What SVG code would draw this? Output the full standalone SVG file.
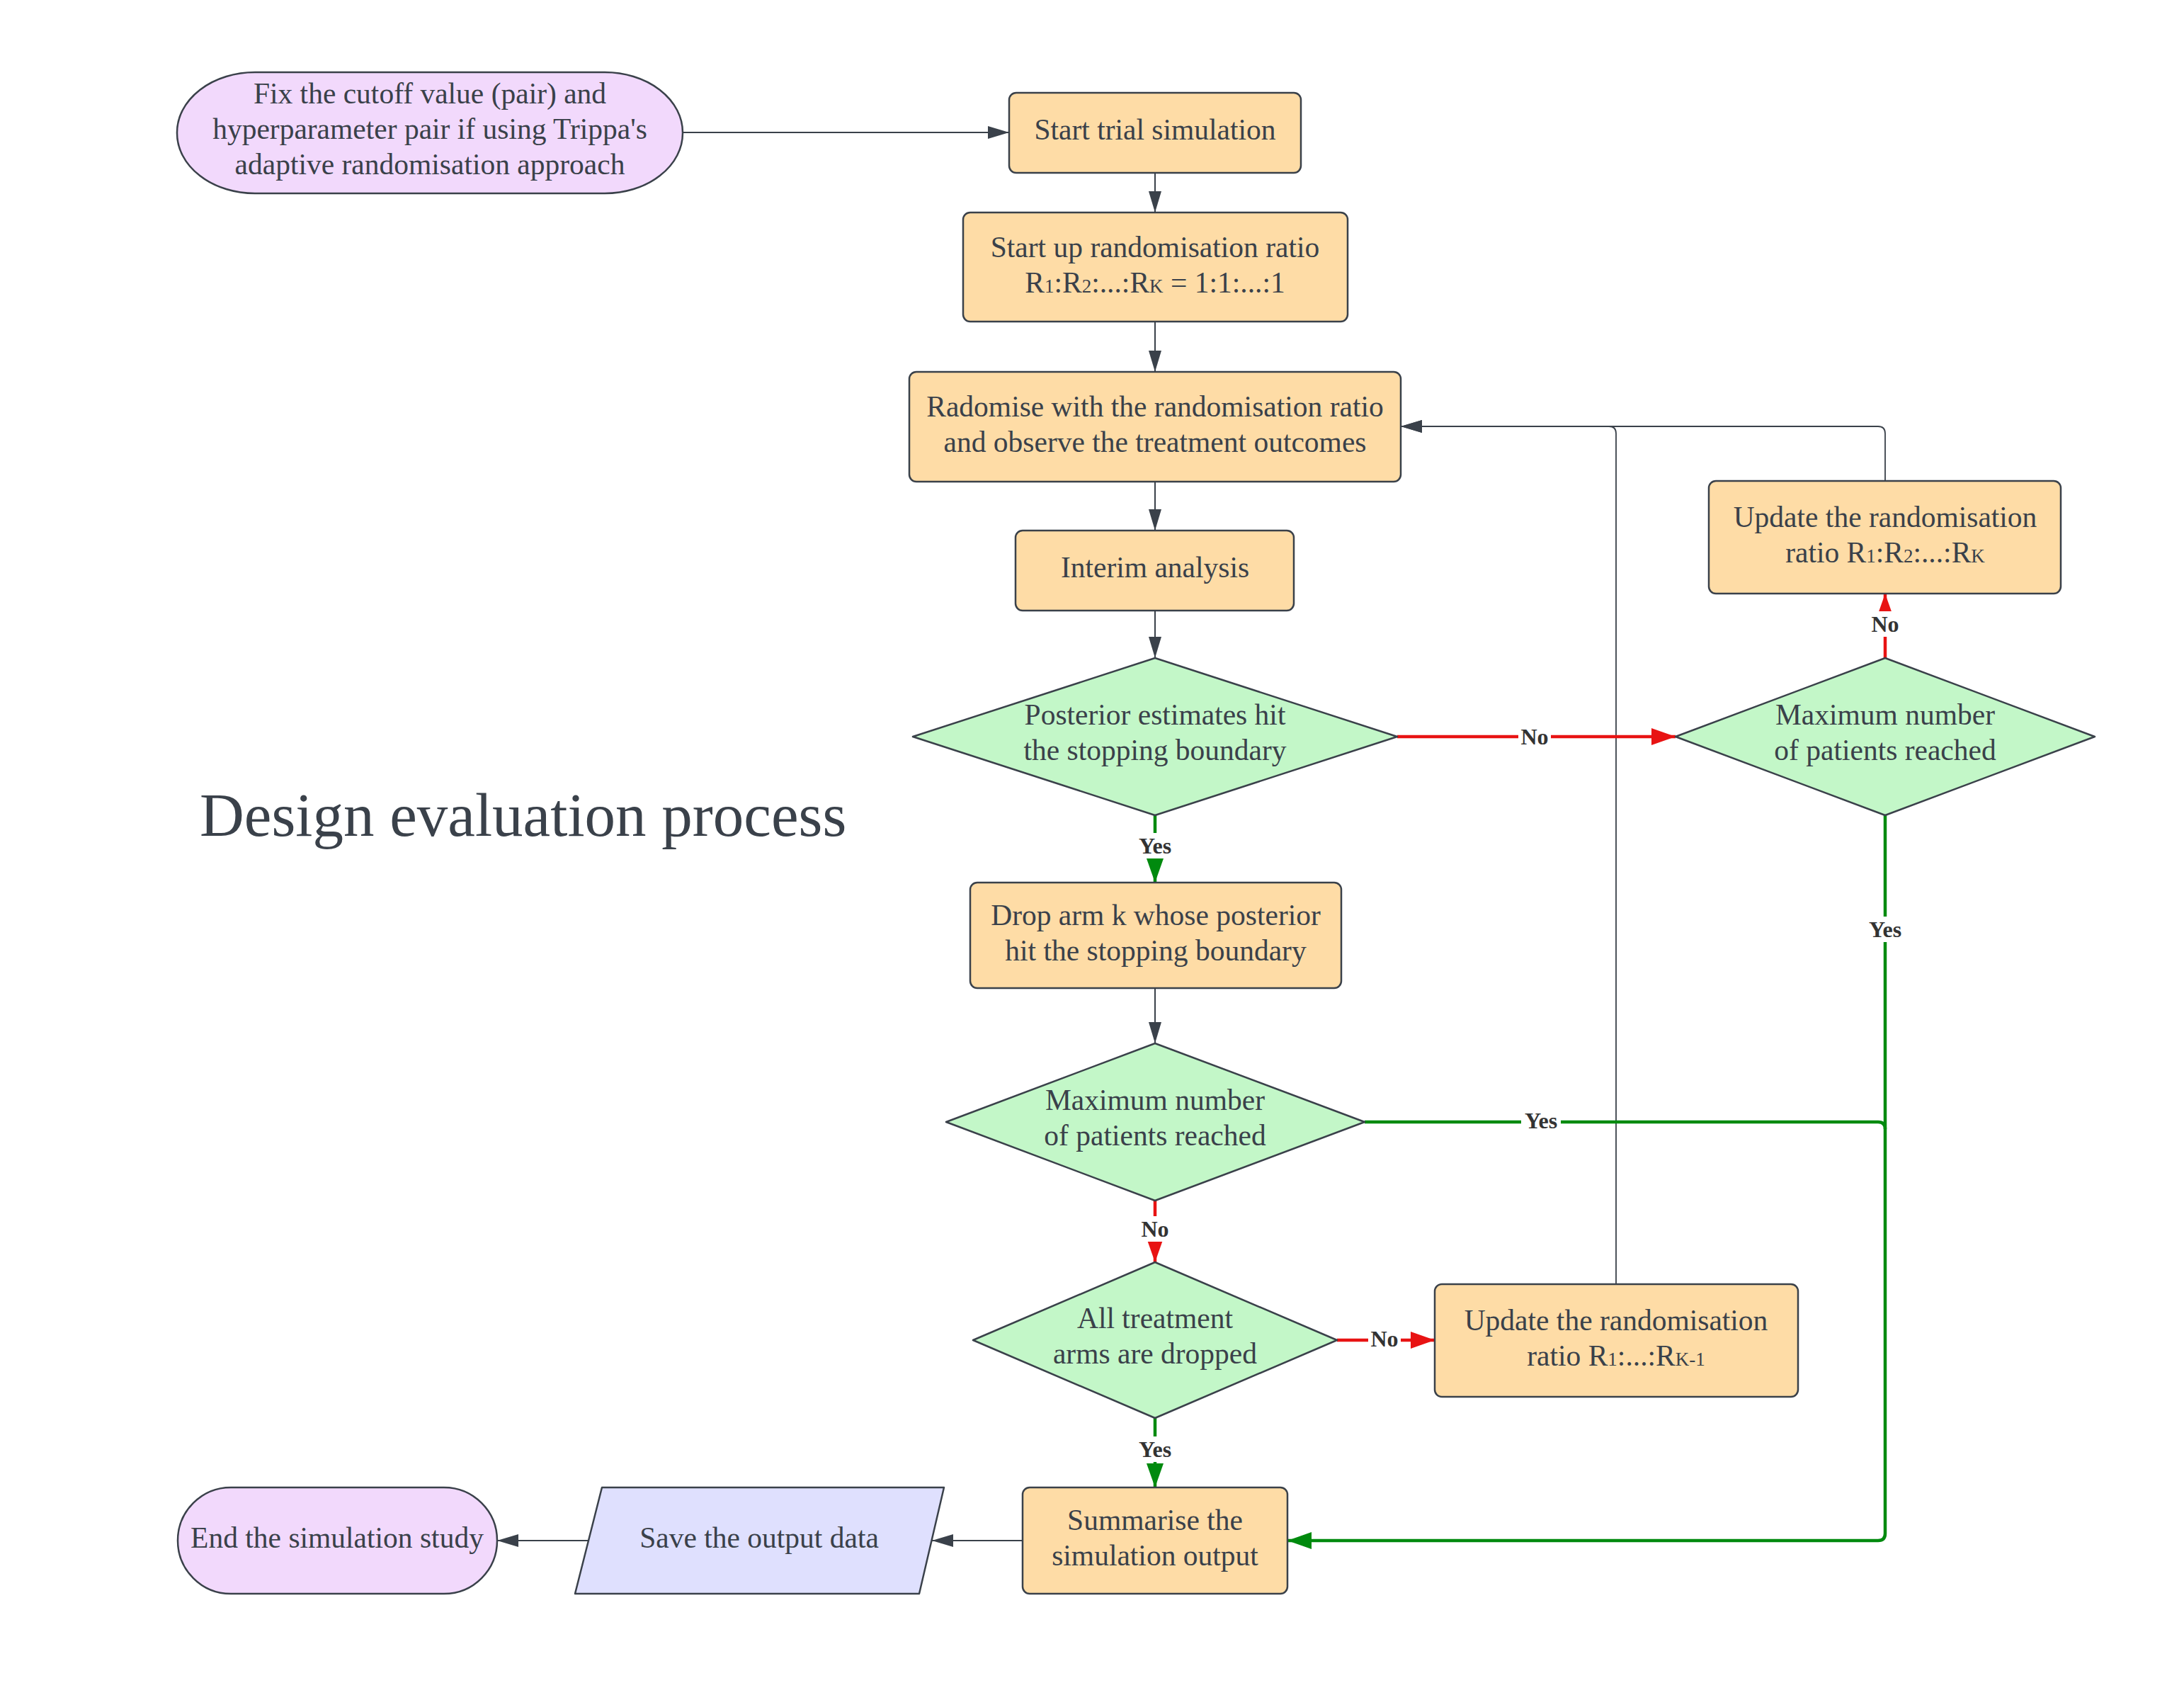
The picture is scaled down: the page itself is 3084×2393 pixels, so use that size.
<svg xmlns="http://www.w3.org/2000/svg" width="3084" height="2393" viewBox="0 0 3084 2393">
<defs>
<style>
.box{fill:#fedca6;stroke:#3a414a;stroke-width:2.5}
.dia{fill:#c3f7c8;stroke:#3a414a;stroke-width:2.5;stroke-linejoin:round}
.term{fill:#f2d9fc;stroke:#3a414a;stroke-width:2.5}
.io{fill:#dfe0fe;stroke:#3a414a;stroke-width:2.5;stroke-linejoin:round}
.t{font-family:"Liberation Serif","Times New Roman",serif;font-size:41.5px;fill:#3a414a;text-anchor:middle}
.sub{font-size:27px}
.title{font-family:"Liberation Serif","Times New Roman",serif;font-size:87px;fill:#3a414a}
.c{fill:none;stroke:#3a414a;stroke-width:2}
.cg{fill:none;stroke:#3a414a;stroke-width:1.8}
.r{fill:none;stroke:#e81313;stroke-width:4.5}
.g{fill:none;stroke:#008a0e;stroke-width:4.5}
.lbl{font-family:"Liberation Serif","Times New Roman",serif;font-size:32px;font-weight:bold;fill:#333333;text-anchor:middle}
.lb{fill:#ffffff}
</style>
<marker id="ad" markerUnits="userSpaceOnUse" markerWidth="30" markerHeight="18" refX="30" refY="9" orient="auto"><path d="M0,0 L30,9 L0,18 z" fill="#3a414a"/></marker>
<marker id="ar" markerUnits="userSpaceOnUse" markerWidth="34" markerHeight="24" refX="34" refY="12" orient="auto"><path d="M0,0 L34,12 L0,24 z" fill="#e81313"/></marker>
<marker id="ag" markerUnits="userSpaceOnUse" markerWidth="34" markerHeight="24" refX="34" refY="12" orient="auto"><path d="M0,0 L34,12 L0,24 z" fill="#008a0e"/></marker>
</defs>
<rect width="3084" height="2393" fill="#ffffff"/>

<text class="title" x="282" y="1180">Design evaluation process</text>

<g id="connectors">
<path class="c" d="M964 187 H1425" marker-end="url(#ad)"/>
<path class="c" d="M1631 244 V300" marker-end="url(#ad)"/>
<path class="c" d="M1631 454 V525" marker-end="url(#ad)"/>
<path class="c" d="M1631 680 V749" marker-end="url(#ad)"/>
<path class="c" d="M1631 862 V929" marker-end="url(#ad)"/>
<path class="c" d="M1631 1395 V1473" marker-end="url(#ad)"/>
<path class="c" d="M1444 2175 H1316" marker-end="url(#ad)"/>
<path class="c" d="M831 2175 H702" marker-end="url(#ad)"/>
<path class="cg" d="M2662 679 V612 Q2662 602 2652 602 H1978" marker-end="url(#ad)"/>
<path class="cg" d="M2282 1813 V612 Q2282 602 2272 602 H1978" marker-end="url(#ad)"/>
<path class="r" d="M1973 1040 H2366" marker-end="url(#ar)"/>
<path class="r" d="M2662 929 V838" marker-end="url(#ar)"/>
<path class="r" d="M1631 1695 V1782" marker-end="url(#ar)"/>
<path class="r" d="M1888 1892 H2026" marker-end="url(#ar)"/>
<path class="g" d="M1631 1151 V1246" marker-end="url(#ag)"/>
<path class="g" d="M1631 2002 V2100" marker-end="url(#ag)"/>
<path class="g" d="M2662 1151 V2165 Q2662 2175 2652 2175 H1818" marker-end="url(#ag)"/>
<path class="g" d="M1927 1584 H2652 Q2662 1584 2662 1594"/>
<rect class="lb" x="2144" y="1022" width="46" height="36"/><text class="lbl" x="2167" y="1051">No</text>
<rect class="lb" x="2639" y="863" width="46" height="36"/><text class="lbl" x="2662" y="892">No</text>
<rect class="lb" x="2634" y="1294" width="56" height="36"/><text class="lbl" x="2662" y="1323">Yes</text>
<rect class="lb" x="1603" y="1176" width="56" height="36"/><text class="lbl" x="1631" y="1205">Yes</text>
<rect class="lb" x="2148" y="1564" width="56" height="36"/><text class="lbl" x="2176" y="1593">Yes</text>
<rect class="lb" x="1608" y="1717" width="46" height="36"/><text class="lbl" x="1631" y="1746">No</text>
<rect class="lb" x="1932" y="1872" width="46" height="36"/><text class="lbl" x="1955" y="1901">No</text>
<rect class="lb" x="1603" y="2028" width="56" height="36"/><text class="lbl" x="1631" y="2057">Yes</text>
</g>

<g id="n_fix">
<rect class="term" x="250" y="102" width="714" height="171" rx="110" ry="85"/>
<text class="t" x="607" y="146">Fix the cutoff value (pair) and</text>
<text class="t" x="607" y="196">hyperparameter pair if using Trippa's</text>
<text class="t" x="607" y="246">adaptive randomisation approach</text>
</g>

<g id="n_start">
<rect class="box" x="1425" y="131" width="412" height="113" rx="10"/>
<text class="t" x="1631" y="197">Start trial simulation</text>
</g>

<g id="n_ratio">
<rect class="box" x="1360" y="300" width="543" height="154" rx="10"/>
<text class="t" x="1631" y="363">Start up randomisation ratio</text>
<text class="t" x="1631" y="413">R<tspan class="sub">1</tspan>:R<tspan class="sub">2</tspan>:...:R<tspan class="sub">K</tspan> = 1:1:...:1</text>
</g>

<g id="n_rand">
<rect class="box" x="1284" y="525" width="694" height="155" rx="10"/>
<text class="t" x="1631" y="588">Radomise with the randomisation ratio</text>
<text class="t" x="1631" y="638">and observe the treatment outcomes</text>
</g>

<g id="n_interim">
<rect class="box" x="1434" y="749" width="393" height="113" rx="10"/>
<text class="t" x="1631" y="815">Interim analysis</text>
</g>

<g id="d_posterior">
<polygon class="dia" points="1631,929 1973,1040 1631,1151 1289,1040"/>
<text class="t" x="1631" y="1023">Posterior estimates hit</text>
<text class="t" x="1631" y="1073">the stopping boundary</text>
</g>

<g id="d_max1">
<polygon class="dia" points="2662,929 2958,1040 2662,1151 2366,1040"/>
<text class="t" x="2662" y="1023">Maximum number</text>
<text class="t" x="2662" y="1073">of patients reached</text>
</g>

<g id="n_update1">
<rect class="box" x="2413" y="679" width="497" height="159" rx="10"/>
<text class="t" x="2662" y="744">Update the randomisation</text>
<text class="t" x="2662" y="794">ratio R<tspan class="sub">1</tspan>:R<tspan class="sub">2</tspan>:...:R<tspan class="sub">K</tspan></text>
</g>

<g id="n_drop">
<rect class="box" x="1370" y="1246" width="524" height="149" rx="10"/>
<text class="t" x="1632" y="1306">Drop arm k whose posterior</text>
<text class="t" x="1632" y="1356">hit the stopping boundary</text>
</g>

<g id="d_max2">
<polygon class="dia" points="1631,1473 1927,1584 1631,1695 1336,1584"/>
<text class="t" x="1631" y="1567">Maximum number</text>
<text class="t" x="1631" y="1617">of patients reached</text>
</g>

<g id="d_all">
<polygon class="dia" points="1631,1782 1888,1892 1631,2002 1374,1892"/>
<text class="t" x="1631" y="1875">All treatment</text>
<text class="t" x="1631" y="1925">arms are dropped</text>
</g>

<g id="n_update2">
<rect class="box" x="2026" y="1813" width="513" height="159" rx="10"/>
<text class="t" x="2282" y="1878">Update the randomisation</text>
<text class="t" x="2282" y="1928">ratio R<tspan class="sub">1</tspan>:...:R<tspan class="sub">K-1</tspan></text>
</g>

<g id="n_summarise">
<rect class="box" x="1444" y="2100" width="374" height="150" rx="10"/>
<text class="t" x="1631" y="2160">Summarise the</text>
<text class="t" x="1631" y="2210">simulation output</text>
</g>

<g id="n_save">
<polygon class="io" points="850,2100 1333,2100 1298,2250 812,2250"/>
<text class="t" x="1072" y="2185">Save the output data</text>
</g>

<g id="n_end">
<rect class="term" x="251" y="2100" width="451" height="150" rx="75" ry="75"/>
<text class="t" x="476" y="2185">End the simulation study</text>
</g>
</svg>
